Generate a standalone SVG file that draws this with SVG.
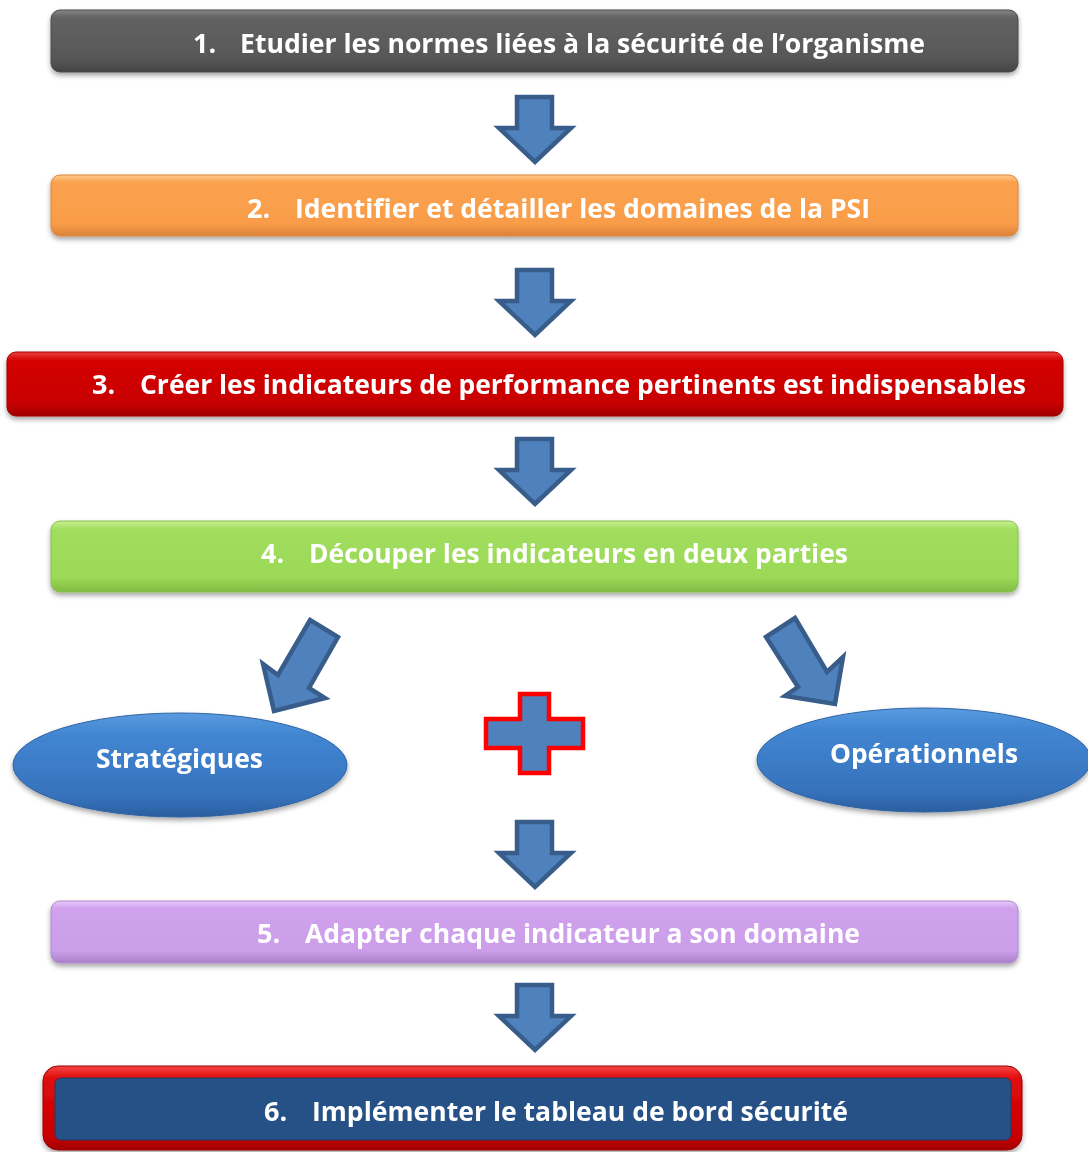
<svg xmlns="http://www.w3.org/2000/svg" xmlns:xlink="http://www.w3.org/1999/xlink" width="1088" height="1152" viewBox="0 0 1088 1152">
<defs>
<style>
.t{font-family:"Open Sans","Liberation Sans",sans-serif;font-weight:bold;font-size:27px;fill:#ffffff;}
.arr{fill:#4f81bd;stroke:#385d8a;stroke-width:4.5;stroke-linejoin:miter;}
</style>
<filter id="sh" x="-5%" y="-20%" width="110%" height="150%">
<feDropShadow dx="0" dy="3" stdDeviation="2.5" flood-color="#000" flood-opacity="0.35"/>
</filter>
<linearGradient id="gGray" x1="0" y1="0" x2="0" y2="1">
<stop offset="0" stop-color="#868686"/><stop offset="0.12" stop-color="#626262"/><stop offset="0.8" stop-color="#575757"/><stop offset="1" stop-color="#424242"/>
</linearGradient>
<linearGradient id="gOrange" x1="0" y1="0" x2="0" y2="1">
<stop offset="0" stop-color="#ffc98a"/><stop offset="0.12" stop-color="#fba24f"/><stop offset="0.8" stop-color="#f99c48"/><stop offset="1" stop-color="#d9823a"/>
</linearGradient>
<linearGradient id="gRed" x1="0" y1="0" x2="0" y2="1">
<stop offset="0" stop-color="#f04040"/><stop offset="0.12" stop-color="#d40606"/><stop offset="0.8" stop-color="#c80202"/><stop offset="1" stop-color="#a00000"/>
</linearGradient>
<linearGradient id="gGreen" x1="0" y1="0" x2="0" y2="1">
<stop offset="0" stop-color="#c8f090"/><stop offset="0.12" stop-color="#a2dd5e"/><stop offset="0.8" stop-color="#9bd957"/><stop offset="1" stop-color="#80bb44"/>
</linearGradient>
<linearGradient id="gLilac" x1="0" y1="0" x2="0" y2="1">
<stop offset="0" stop-color="#e8c8fa"/><stop offset="0.12" stop-color="#d0a2ee"/><stop offset="0.8" stop-color="#cc9eea"/><stop offset="1" stop-color="#a980c8"/>
</linearGradient>
<linearGradient id="gRed6" x1="0" y1="0" x2="0" y2="1">
<stop offset="0" stop-color="#f54545"/><stop offset="0.15" stop-color="#e00a0a"/><stop offset="0.85" stop-color="#c80000"/><stop offset="1" stop-color="#a00000"/>
</linearGradient>
<linearGradient id="gBlue" x1="0" y1="0" x2="0" y2="1">
<stop offset="0" stop-color="#5a9be0"/><stop offset="0.2" stop-color="#4286d2"/><stop offset="0.8" stop-color="#3672bc"/><stop offset="1" stop-color="#2b5f9f"/>
</linearGradient>
<path id="down" d="M517,2 H552 V33 H571 L535,67 L499,33 H517 Z"/>
</defs>
<rect width="1088" height="1152" fill="#ffffff"/>

<g id="connectors">
<use xlink:href="#down" class="arr" transform="translate(0,95)"/>
<use xlink:href="#down" class="arr" transform="translate(0,268)"/>
<use xlink:href="#down" class="arr" transform="translate(0,437)"/>
<use xlink:href="#down" class="arr" transform="translate(0,820)"/>
<use xlink:href="#down" class="arr" transform="translate(0,983)"/>
<polygon class="arr" points="310,620 338,637 309,688 325,698 274,711 263,664 278,675"/>
<polygon class="arr" points="795,618 827,672 843,657 835,704 785,696 798,687 766,637"/>
</g>

<g id="plus">
<path d="M520,694 H549 V719 H583 V748 H549 V773 H520 V748 H486 V719 H520 Z" fill="#4f81bd" stroke="#ff0000" stroke-width="4.5"/>
</g>

<g id="step1" filter="url(#sh)">
<rect x="51" y="10" width="967" height="62" rx="9" fill="url(#gGray)" stroke="#4a4a4a" stroke-width="1"/>
<text class="t" y="53"><tspan x="193">1.</tspan><tspan x="240" textLength="685" lengthAdjust="spacingAndGlyphs">Etudier les normes liées à la sécurité de l’organisme</tspan></text>
</g>

<g id="step2" filter="url(#sh)">
<rect x="51" y="175" width="967" height="61" rx="9" fill="url(#gOrange)" stroke="#d9863e" stroke-width="1"/>
<text class="t" y="218"><tspan x="247">2.</tspan><tspan x="295" textLength="575" lengthAdjust="spacingAndGlyphs">Identifier et détailler les domaines de la PSI</tspan></text>
</g>

<g id="step3" filter="url(#sh)">
<rect x="7" y="352" width="1056" height="64" rx="9" fill="url(#gRed)" stroke="#a00000" stroke-width="1"/>
<text class="t" y="394"><tspan x="92">3.</tspan><tspan x="140" textLength="886" lengthAdjust="spacingAndGlyphs">Créer les indicateurs de performance pertinents est indispensables</tspan></text>
</g>

<g id="step4" filter="url(#sh)">
<rect x="51" y="521" width="967" height="71" rx="9" fill="url(#gGreen)" stroke="#86c24a" stroke-width="1"/>
<text class="t" y="563"><tspan x="261">4.</tspan><tspan x="309" textLength="539" lengthAdjust="spacingAndGlyphs">Découper les indicateurs en deux parties</tspan></text>
</g>

<g id="strategiques" filter="url(#sh)">
<ellipse cx="180" cy="765" rx="167" ry="52" fill="url(#gBlue)" stroke="#2f63a3" stroke-width="1"/>
<text class="t" x="96" y="768" textLength="167" lengthAdjust="spacingAndGlyphs">Stratégiques</text>
</g>

<g id="operationnels" filter="url(#sh)">
<ellipse cx="924" cy="760" rx="167" ry="52" fill="url(#gBlue)" stroke="#2f63a3" stroke-width="1"/>
<text class="t" x="830" y="763" textLength="188" lengthAdjust="spacingAndGlyphs">Opérationnels</text>
</g>

<g id="step5" filter="url(#sh)">
<rect x="51" y="901" width="967" height="62" rx="9" fill="url(#gLilac)" stroke="#b088cc" stroke-width="1"/>
<text class="t" y="943"><tspan x="257">5.</tspan><tspan x="305" textLength="555" lengthAdjust="spacingAndGlyphs">Adapter chaque indicateur a son domaine</tspan></text>
</g>

<g id="step6" filter="url(#sh)">
<rect x="43" y="1066" width="979" height="84" rx="15" fill="url(#gRed6)" stroke="#9a0000" stroke-width="1"/>
<rect x="55" y="1078" width="956" height="62" rx="6" fill="#275186" stroke="#1b3c66" stroke-width="1"/>
<text class="t" y="1121"><tspan x="264">6.</tspan><tspan x="312" textLength="536" lengthAdjust="spacingAndGlyphs">Implémenter le tableau de bord sécurité</tspan></text>
</g>
</svg>
